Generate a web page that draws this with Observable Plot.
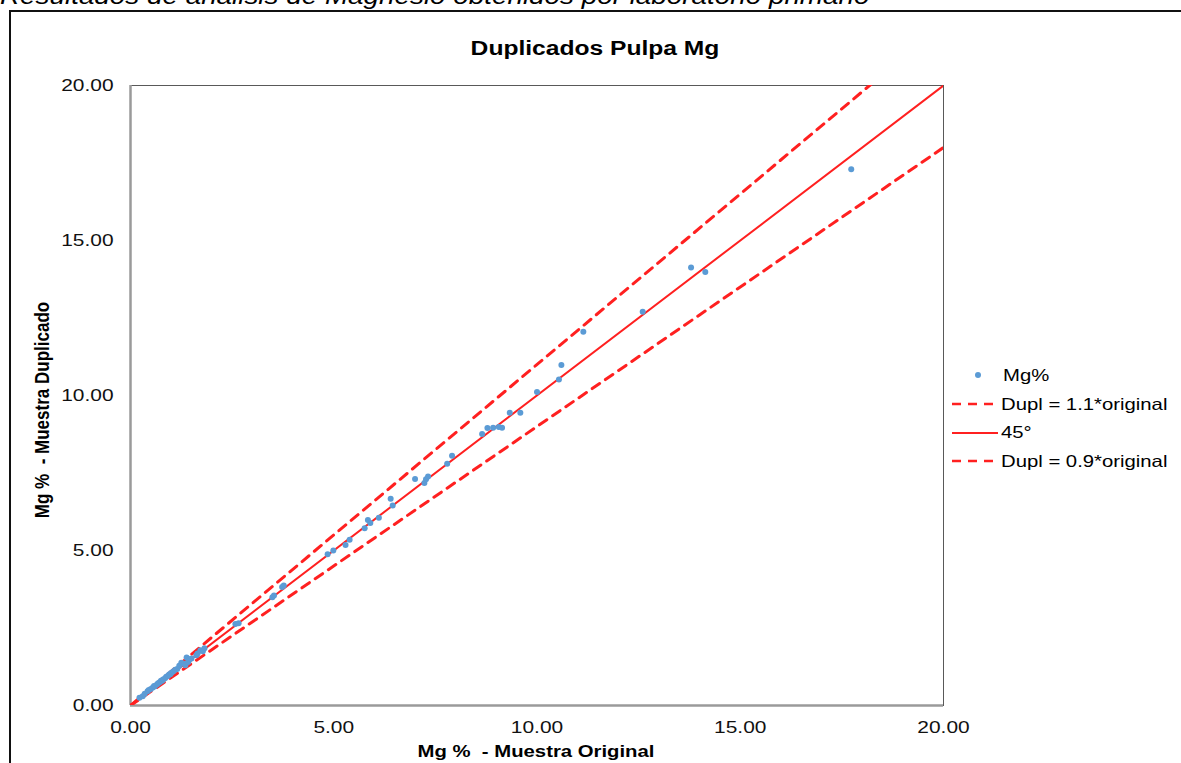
<!DOCTYPE html>
<html>
<head>
<meta charset="utf-8">
<script src="https://cdn.jsdelivr.net/npm/d3@7"></script>
<script src="https://cdn.jsdelivr.net/npm/@observablehq/plot@0.6"></script>
<style>
  body { margin:0; background:#fff; font-family:"Liberation Sans", Arial, sans-serif; }
  #wrap { position:relative; width:1181px; height:763px; overflow:hidden; background:#fff; }
  #border { position:absolute; left:9px; top:10px; width:1300px; height:900px; border-left:2.5px solid #111; border-top:2.5px solid #111; }
  .t { position:absolute; white-space:nowrap; line-height:1; color:#000; }
  #caption { left:0; top:-15px; font-size:23px; font-style:italic; transform:scaleX(1.21); transform-origin:left top; }
  #title { left:595px; top:37.5px; font-size:20px; font-weight:bold; transform:translateX(-50%) scaleX(1.23); }
  #xtitle { left:536px; top:743px; font-size:16.5px; font-weight:bold; transform:translateX(-50%) scaleX(1.23); }
  #ytitle { left:42px; top:410px; font-size:17px; font-weight:bold; transform:translate(-50%,-50%) rotate(-90deg) scaleY(1.2); }
  #legend { position:absolute; left:950px; top:361px; }
  .row { display:flex; align-items:center; height:28.7px; }
  .row svg { flex:none; }
  .row span { font-size:16.5px; line-height:1; white-space:nowrap; display:inline-block; transform:scaleX(1.23); transform-origin:left center; color:#000; }
  #chart { position:absolute; left:0; top:0; }
</style>
</head>
<body>
<div id="wrap">
  <div id="border"></div>
  <div id="chart"></div>
  <div class="t" id="caption">Resultados de análisis de Magnesio obtenidos por laboratorio primario</div>
  <div class="t" id="title">Duplicados Pulpa Mg</div>
  <div class="t" id="xtitle">Mg %&nbsp; - Muestra Original</div>
  <div class="t" id="ytitle">Mg %&nbsp; - Muestra Duplicado</div>
  <div id="legend"></div>
</div>
<script>
// ---- data ----
const xOriginal = [
  0.22,0.30,0.35,0.42,0.45,0.50,0.55,0.58,0.60,0.65,0.68,0.72,0.75,0.78,0.80,0.85,0.88,0.92,0.95,0.98,
  1.00,1.05,1.10,1.15,1.20,1.25,1.32,1.35,1.38,1.42,1.45,1.50,1.62,1.65,1.72,1.78,1.82,
  2.58,2.66,3.49,3.53,3.73,3.77,
  4.85,4.99,5.29,5.39,5.76,5.84,5.90,6.11,6.40,6.45,7.00,7.23,7.27,7.32,7.79,7.91,
  8.65,8.78,8.92,9.06,9.14,9.33,9.59,10.00,10.54,10.60,11.14,12.60,13.79,14.14,17.73
];
const yDuplicado = [
  0.25,0.30,0.38,0.46,0.50,0.53,0.58,0.63,0.62,0.68,0.72,0.75,0.80,0.80,0.84,0.88,0.93,0.95,1.00,1.01,
  1.05,1.10,1.15,1.18,1.28,1.38,1.35,1.30,1.55,1.40,1.48,1.52,1.62,1.68,1.78,1.75,1.85,
  2.63,2.65,3.49,3.55,3.82,3.87,
  4.88,5.00,5.18,5.35,5.72,5.98,5.89,6.06,6.67,6.45,7.31,7.18,7.30,7.39,7.80,8.06,
  8.76,8.95,8.96,8.98,8.96,9.44,9.44,10.11,10.52,10.98,12.06,12.70,14.13,13.98,17.30
];
const axisTicks = [0, 5, 10, 15, 20];
const refEnds = [0, 20];              // extent of reference lines (original axis)
const upperFactor = 1.1, lowerFactor = 0.9;
const seriesNames = ["Mg%", "Dupl = 1.1*original", "45°", "Dupl = 0.9*original"];

const blue = "#5b9bd5", red = "#ff2020";
const dash = "9,7";
const fmt = d3.format(".2f");

const chart = Plot.plot({
  width: 1181,
  height: 763,
  marginLeft: 130,
  marginRight: 238,
  marginTop: 85,
  marginBottom: 58,
  style: { fontFamily: "'Liberation Sans', Arial, sans-serif", fontSize: "17px", color: "#111", background: "transparent" },
  x: { domain: [0, 20], ticks: axisTicks, tickFormat: fmt, tickSize: 0, tickPadding: 15, label: null },
  y: { domain: [0, 20], ticks: axisTicks, tickFormat: fmt, tickSize: 0, tickPadding: 17, label: null },
  marks: [
    Plot.frame({ stroke: "#595959", strokeWidth: 1 }),
    Plot.ruleX([0], { stroke: "#9a9a9a", strokeWidth: 2.5 }),
    Plot.ruleY([0], { stroke: "#9a9a9a", strokeWidth: 2.5 }),
    Plot.line(refEnds, { x: d => d, y: d => d * upperFactor, stroke: red, strokeWidth: 3, strokeDasharray: dash, clip: true }),
    Plot.line(refEnds, { x: d => d, y: d => d, stroke: red, strokeWidth: 2, clip: true }),
    Plot.line(refEnds, { x: d => d, y: d => d * lowerFactor, stroke: red, strokeWidth: 3, strokeDasharray: dash, clip: true }),
    Plot.dot(xOriginal, { x: d => d, y: (d, i) => yDuplicado[i], r: 3, fill: blue, stroke: "none" })
  ]
});
document.getElementById("chart").appendChild(chart);

// stretch tick labels horizontally like the reference
chart.querySelectorAll('g[aria-label$="tick label"] text').forEach(t => {
  const len = t.getComputedTextLength();
  t.setAttribute("textLength", (len * 1.23).toFixed(1));
  t.setAttribute("lengthAdjust", "spacingAndGlyphs");
});

// legend
const legend = document.getElementById("legend");
const samples = [
  '<svg width="50" height="10"><circle cx="28" cy="5" r="3" fill="' + blue + '"/></svg>',
  '<svg width="50" height="10"><line x1="2" y1="5" x2="48" y2="5" stroke="' + red + '" stroke-width="2.6" stroke-dasharray="' + dash + '"/></svg>',
  '<svg width="50" height="10"><line x1="2" y1="5" x2="48" y2="5" stroke="' + red + '" stroke-width="2"/></svg>',
  '<svg width="50" height="10"><line x1="2" y1="5" x2="48" y2="5" stroke="' + red + '" stroke-width="2.6" stroke-dasharray="' + dash + '"/></svg>'
];
seriesNames.forEach((name, i) => {
  const row = document.createElement("div");
  row.className = "row";
  row.innerHTML = samples[i] + '<span style="margin-left:' + (i === 0 ? 3 : 1) + 'px">' + name + '</span>';
  legend.appendChild(row);
});
</script>
</body>
</html>
